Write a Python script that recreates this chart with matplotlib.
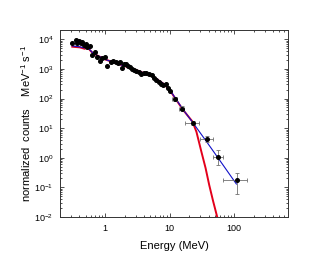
import matplotlib
matplotlib.use("Agg")
import matplotlib.pyplot as plt
from matplotlib.ticker import LogLocator, NullFormatter, FixedLocator

plt.rcParams['font.family'] = ['Liberation Sans', 'DejaVu Sans']
plt.rcParams['mathtext.fontset'] = 'custom'
plt.rcParams['mathtext.rm'] = 'Liberation Sans'
plt.rcParams['mathtext.it'] = 'Liberation Sans'

# Data points (energy MeV, normalized counts)
data_e = [0.308, 0.351, 0.368, 0.395, 0.420, 0.445, 0.467, 0.501, 0.526, 0.578,
          0.637, 0.692, 0.751, 0.827, 0.888, 1.0, 1.074, 1.224, 1.331, 1.463,
          1.590, 1.687, 1.812, 1.970, 2.14, 2.30, 2.47, 2.65, 2.85, 3.06,
          3.37, 3.66, 3.98, 4.37, 4.75, 5.23, 5.68, 6.25, 6.79, 7.38,
          7.93, 8.62, 9.48, 10.3]
data_f = [7330, 9490, 7710, 8560, 7330, 7930, 6420, 6780, 5650, 5950,
          2950, 3830, 2590, 1850, 2280, 2590, 1290, 1760, 1900, 1760,
          1540, 1710, 1040, 1430, 1430, 1290, 1190, 990, 920, 850,
          810, 673, 746, 746, 673, 622, 480, 422, 352, 308,
          285, 301, 220, 184]

# High-energy points with error bars
hi_e = [12.0, 15.3, 22.6, 38.1, 56.5, 110]
hi_f = [94, 46, 15.2, 4.15, 1.08, 0.184]
hi_elo = [11.0, 14.0, 17.2, 29.4, 47.2, 67.5]
hi_ehi = [13.2, 16.8, 28.3, 47.2, 67.5, 155]
hi_flo = [80, 40, 13.0, 3.3, 0.59, 0.062]
hi_fhi = [110, 54, 17.5, 5.5, 1.9, 0.316]

# Model curves
red_e = [0.31, 0.405, 0.484, 0.526, 0.578, 0.65, 1.0, 1.69, 3.06, 5.55, 7.9, 10.0,
         12.7, 16.2, 22.6, 26.0, 31.0, 36.0, 41.0, 47.0, 54.5]
red_f = [5650, 5370, 4800, 6420, 4380, 3370, 2100, 1420, 910, 550, 325, 195,
         89, 41, 16.6, 7.5, 1.6, 0.45, 0.12, 0.035, 0.01]
blue_e = [0.31, 0.405, 0.484, 0.526, 0.578, 0.65, 1.0, 1.69, 3.06, 5.55, 7.9, 10.0,
          12.7, 16.2, 22.6, 38.0, 56.0, 108]
blue_f = [6000, 5600, 5100, 6300, 4500, 3400, 2100, 1420, 910, 560, 330, 200,
          92, 42, 16, 3.3, 1.0, 0.13]

fig = plt.figure(figsize=(3.36, 2.60), dpi=100)
ax = fig.add_axes([0.1786, 0.1654, 0.857 - 0.1786, 0.8846 - 0.1654])

ax.plot(red_e, red_f, color='#e3001b', lw=1.4, zorder=3)
ax.plot(blue_e, blue_f, color='#1010c8', lw=0.8, zorder=4)

xerr = [[e - l for e, l in zip(hi_e, hi_elo)], [h - e for e, h in zip(hi_e, hi_ehi)]]
yerr = [[f - l for f, l in zip(hi_f, hi_flo)], [h - f for f, h in zip(hi_f, hi_fhi)]]
ax.errorbar(hi_e, hi_f, xerr=xerr, yerr=yerr, fmt='o', color='black', ms=2.6,
            ecolor='#707070', elinewidth=0.6, capsize=1.5, capthick=0.6, zorder=5)
ax.plot(data_e, data_f, 'o', color='black', ms=2.6, zorder=5)

ax.set_xscale('log')
ax.set_yscale('log')
ax.set_xlim(0.2, 680)
ax.set_ylim(0.01, 2.07e4)

ax.xaxis.set_major_locator(FixedLocator([1, 10, 100]))
ax.set_xticklabels(['1', '10', '100'])
ax.xaxis.set_minor_locator(LogLocator(base=10, subs=range(2, 10), numticks=20))
ax.xaxis.set_minor_formatter(NullFormatter())
ax.yaxis.set_major_locator(LogLocator(base=10, numticks=20))
ax.yaxis.set_minor_locator(LogLocator(base=10, subs=range(2, 10), numticks=20))
ax.yaxis.set_minor_formatter(NullFormatter())

ax.tick_params(which='both', direction='in', top=True, right=True, color='#333333', width=0.6)
ax.tick_params(which='major', length=3, labelsize=6.5)
ax.tick_params(which='minor', length=1.5)
ax.tick_params(axis='x', pad=5)
ax.tick_params(axis='y', pad=5)
for s in ax.spines.values():
    s.set_linewidth(0.7)
    s.set_color('#333333')

ax.set_xlabel('Energy (MeV)', fontsize=8, labelpad=6)
ax.set_ylabel('normalized  counts    MeV$^{-1}$ s$^{-1}$', fontsize=8, labelpad=1)

fig.savefig('out.png', dpi=100)
